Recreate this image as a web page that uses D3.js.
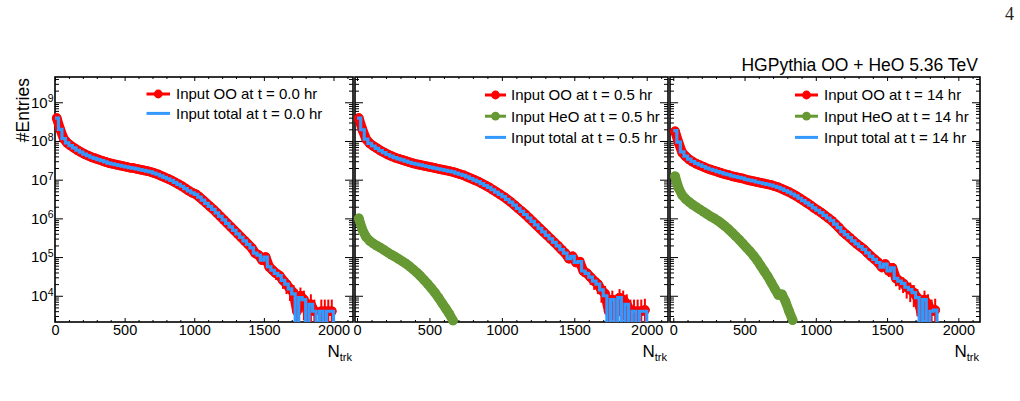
<!DOCTYPE html>
<html>
<head>
<meta charset="utf-8">
<script src="https://cdn.jsdelivr.net/npm/d3@7"></script>
<style>
  body { margin: 0; background: #fff; }
  text { font-family: "Liberation Sans", Arial, Helvetica, sans-serif; }
</style>
</head>
<body>
<svg id="chart" width="1020" height="401"></svg>
<script>
//! DATA  (log10 of #Entries per N_trk bin, bins of 25 starting at 0; null = empty bin)
const BIN_WIDTH = 25;
const EVENT_WEIGHT = 4000; // weight of a single event, used for the error bars

const ooT0 = [8.59, 8.30, 8.06, 7.95, 7.88, 7.82, 7.76, 7.71, 7.66, 7.62,
  7.58, 7.55, 7.52, 7.49, 7.46, 7.43, 7.41, 7.39, 7.37, 7.35,
  7.33, 7.31, 7.30, 7.28, 7.26, 7.24, 7.22, 7.20, 7.17, 7.14,
  7.10, 7.06, 7.02, 6.98, 6.93, 6.88, 6.83, 6.77, 6.71, 6.66,
  6.62, 6.55, 6.47, 6.39, 6.31, 6.23, 6.14, 6.05, 5.96, 5.87,
  5.78, 5.69, 5.60, 5.51, 5.42, 5.33, 5.24, 5.10, 5.05, 4.92,
  5.00, 4.75, 4.66, 4.58, 4.52, 4.40, 4.30, 4.18, 4.08, 3.60,
  4.00, 3.90, 3.60, 3.78, 3.60, null, 3.60, 3.60, 3.60, 3.60];
const totalT0 = [8.59, 8.30, 8.06, 7.95, 7.88, 7.82, 7.76, 7.71, 7.66, 7.62,
  7.58, 7.55, 7.52, 7.49, 7.46, 7.43, 7.41, 7.39, 7.37, 7.35,
  7.33, 7.31, 7.30, 7.28, 7.26, 7.24, 7.22, 7.20, 7.17, 7.14,
  7.10, 7.06, 7.02, 6.98, 6.93, 6.88, 6.83, 6.77, 6.71, 6.66,
  6.62, 6.55, 6.47, 6.39, 6.31, 6.23, 6.14, 6.05, 5.96, 5.87,
  5.78, 5.69, 5.60, 5.51, 5.42, 5.33, 5.24, 5.10, 5.05, 4.92,
  5.00, 4.75, 4.66, 4.58, 4.52, 4.40, 4.30, 4.18, 4.05, null,
  3.95, 3.90, null, 3.78, 3.60, null, 3.60, null, 3.60, 3.60];

const ooT05 = [8.59, 8.29, 8.05, 7.94, 7.87, 7.81, 7.75, 7.70, 7.65, 7.61,
  7.57, 7.54, 7.51, 7.48, 7.45, 7.42, 7.40, 7.38, 7.36, 7.34,
  7.32, 7.30, 7.28, 7.26, 7.24, 7.22, 7.20, 7.17, 7.14, 7.11,
  7.07, 7.03, 6.99, 6.95, 6.90, 6.85, 6.80, 6.74, 6.68, 6.62,
  6.56, 6.49, 6.42, 6.34, 6.26, 6.18, 6.10, 6.01, 5.92, 5.83,
  5.74, 5.65, 5.56, 5.47, 5.38, 5.29, 5.19, 5.10, 4.96, 5.02,
  4.86, 4.88, 4.64, 4.58, 4.48, 4.38, 4.30, 4.15, 4.05, 3.60,
  3.90, 3.60, 3.95, 3.90, 3.78, 3.60, 3.60, 3.60, 3.60, 3.63];
const heoT05 = [6.00, 5.70, 5.52, 5.42, 5.35, 5.29, 5.24, 5.18, 5.12, 5.06,
  5.01, 4.95, 4.89, 4.83, 4.76, 4.68, 4.60, 4.51, 4.41, 4.31,
  4.20, 4.08, 3.95, 3.81, 3.67, 3.53, 3.36];
const totalT05 = [8.59, 8.29, 8.05, 7.94, 7.87, 7.81, 7.75, 7.70, 7.65, 7.61,
  7.57, 7.54, 7.51, 7.48, 7.45, 7.42, 7.40, 7.38, 7.36, 7.34,
  7.32, 7.30, 7.28, 7.26, 7.24, 7.22, 7.20, 7.17, 7.14, 7.11,
  7.07, 7.03, 6.99, 6.95, 6.90, 6.85, 6.80, 6.74, 6.68, 6.62,
  6.56, 6.49, 6.42, 6.34, 6.26, 6.18, 6.10, 6.01, 5.92, 5.83,
  5.74, 5.65, 5.56, 5.47, 5.38, 5.29, 5.19, 5.10, 4.96, 5.02,
  4.86, 4.88, 4.64, 4.58, 4.48, 4.38, 4.30, 4.15, 4.00, null,
  3.90, null, 3.95, null, 3.78, null, 3.60, null, 3.60, 3.60];

const ooT14 = [8.25, 7.95, 7.70, 7.60, 7.52, 7.46, 7.41, 7.37, 7.33, 7.29,
  7.26, 7.23, 7.20, 7.17, 7.14, 7.12, 7.09, 7.07, 7.05, 7.03,
  7.00, 6.98, 6.96, 6.94, 6.92, 6.90, 6.88, 6.86, 6.83, 6.80,
  6.76, 6.72, 6.68, 6.63, 6.58, 6.52, 6.46, 6.40, 6.34, 6.27,
  6.21, 6.15, 6.08, 6.01, 5.94, 5.85, 5.76, 5.66, 5.58, 5.50,
  5.42, 5.34, 5.27, 5.20, 5.11, 5.02, 4.94, 4.86, 4.74, 4.82,
  4.64, 4.72, 4.45, 4.38, 4.32, 4.22, 4.16, 4.08, 3.95, 3.60,
  3.90, 3.78, 3.60, 3.63];
const heoT14 = [7.09, 6.78, 6.60, 6.50, 6.42, 6.35, 6.29, 6.23, 6.17, 6.11,
  6.05, 6.00, 5.94, 5.87, 5.80, 5.72, 5.63, 5.54, 5.45, 5.35,
  5.25, 5.15, 5.04, 4.92, 4.78, 4.64, 4.50, 4.34, 4.18, 4.02,
  4.04, 3.85, 3.60, 3.37];
const totalT14 = [8.27, 7.97, 7.72, 7.61, 7.53, 7.47, 7.42, 7.38, 7.34, 7.30,
  7.27, 7.24, 7.21, 7.18, 7.15, 7.13, 7.10, 7.08, 7.06, 7.04,
  7.01, 6.99, 6.97, 6.94, 6.92, 6.90, 6.88, 6.86, 6.83, 6.80,
  6.76, 6.72, 6.68, 6.63, 6.58, 6.52, 6.46, 6.40, 6.34, 6.27,
  6.21, 6.15, 6.08, 6.01, 5.94, 5.85, 5.76, 5.66, 5.58, 5.50,
  5.42, 5.34, 5.27, 5.20, 5.11, 5.02, 4.94, 4.86, 4.74, 4.82,
  4.64, 4.72, 4.45, 4.38, 4.32, 4.22, 4.16, 4.08, 3.95, null,
  3.90, null, 3.60, 3.63];

//! LABELS
const legendT0 = ['Input OO at t = 0.0 hr', 'Input total at t = 0.0 hr'];
const legendT05 = ['Input OO at t = 0.5 hr', 'Input HeO at t = 0.5 hr', 'Input total at t = 0.5 hr'];
const legendT14 = ['Input OO at t = 14 hr', 'Input HeO at t = 14 hr', 'Input total at t = 14 hr'];
const xMajorTicks = [0, 500, 1000, 1500, 2000];
const yMajorExponents = [4, 5, 6, 7, 8, 9];
const TITLE = 'HGPythia OO + HeO 5.36 TeV';
const Y_TITLE = '#Entries';

//! STYLE / LAYOUT
const RED = '#ff0000', GREEN = '#669933', BLUE = '#3399ff';
const Y_TOP = 77, Y_BOT = 322;
const MARKER_R = 4.8;

const svg = d3.select('#chart');
const y = d3.scaleLog().domain([2100, 4.5e9]).range([Y_BOT, Y_TOP]);

const panels = [
  { x0: 55, x1: 353, dom: [0, 2140], oo: ooT0, heo: null, total: totalT0,
    legend: legendT0, legX: [146.5, 170], textX: 176, rows: [99.3, 118.7], yLabels: true },
  { x0: 355, x1: 668, dom: [-14, 2147], oo: ooT05, heo: heoT05, total: totalT05,
    legend: legendT05, legX: [485, 506], textX: 511, rows: [100.3, 121.5, 142.7] },
  { x0: 670, x1: 980, dom: [-23, 2152], oo: ooT14, heo: heoT14, total: totalT14,
    legend: legendT14, legX: [795, 818], textX: 824, rows: [100.3, 121.5, 142.7] }
];

const toBins = arr => arr.map((v, k) => ({
  n: (k + 0.5) * BIN_WIDTH,
  v: v == null ? null : Math.pow(10, v)
}));
const visible = d => d.v != null && d.v >= y.domain()[0];

// markers of a series: a dense row of circles, drawn as circles plus a
// round-capped band of the same width so neighbouring bins merge
function drawMarkers(g, x, arr, color) {
  const bins = toBins(arr);
  g.append('path')
    .attr('d', d3.line().defined(visible).x(d => x(d.n)).y(d => y(d.v))(bins))
    .attr('fill', 'none').attr('stroke', color)
    .attr('stroke-width', MARKER_R * 2)
    .attr('stroke-linecap', 'round').attr('stroke-linejoin', 'round');
  g.append('g').selectAll('circle').data(bins.filter(visible)).enter().append('circle')
    .attr('cx', d => x(d.n)).attr('cy', d => y(d.v)).attr('r', MARKER_R)
    .attr('fill', color);
}

panels.forEach((p, i) => {
  const x = d3.scaleLinear().domain(p.dom).range([p.x0, p.x1]);
  const g = svg.append('g');

  g.append('clipPath').attr('id', 'clip' + i)
    .append('rect')
    .attr('x', p.x0).attr('y', Y_TOP)
    .attr('width', p.x1 - p.x0).attr('height', Y_BOT - Y_TOP);

  // ticks
  const xMinor = d3.range(0, p.dom[1], 100).filter(d => d % 500 !== 0);
  const yMinor = [];
  for (let e = 3; e <= 9; e++) for (let m = 2; m <= 9; m++) {
    const v = m * Math.pow(10, e);
    if (v >= y.domain()[0] && v <= y.domain()[1]) yMinor.push(v);
  }
  const yMajor = yMajorExponents.map(e => Math.pow(10, e));

  const axis = (gen, tx, ty, vals, size, fmt, pad) => {
    const a = g.append('g')
      .attr('transform', `translate(${tx},${ty})`)
      .call(gen.tickValues(vals).tickSize(size).tickPadding(pad || 3).tickFormat(fmt || (() => '')));
    a.select('.domain').remove();
    a.selectAll('line').attr('stroke', '#000').attr('stroke-width', 1);
    a.attr('font-family', null).attr('font-size', null);
    return a;
  };

  const bottom = axis(d3.axisBottom(x), 0, Y_BOT, xMajorTicks.filter(d => d <= p.dom[1]), -4, d3.format('d'), 2.5);
  bottom.selectAll('text').attr('font-size', '14.5px').attr('fill', '#000');
  axis(d3.axisBottom(x), 0, Y_BOT, xMinor, -2);
  axis(d3.axisTop(x), 0, Y_TOP, xMajorTicks, -4);
  axis(d3.axisTop(x), 0, Y_TOP, xMinor, -2);

  const left = axis(d3.axisLeft(y), p.x0, 0, yMajor, -8, p.yLabels ? (() => '10') : null, 1.5);
  axis(d3.axisLeft(y), p.x0, 0, yMinor, -4);
  axis(d3.axisRight(y), p.x1, 0, yMajor, -8);
  axis(d3.axisRight(y), p.x1, 0, yMinor, -4);
  if (p.yLabels) {
    left.selectAll('text')
      .attr('font-size', '15px').attr('fill', '#000')
      .each(function (d) {
        d3.select(this).append('tspan')
          .attr('dy', '-0.5em').attr('font-size', '10.5px')
          .text(Math.round(Math.log10(d)));
      });
  }

  g.append('rect')
    .attr('x', p.x0).attr('y', Y_TOP)
    .attr('width', p.x1 - p.x0).attr('height', Y_BOT - Y_TOP)
    .attr('fill', 'none').attr('stroke', '#000').attr('stroke-width', 1.6);

  // OO: error bars + markers
  g.append('g').attr('clip-path', `url(#clip${i})`)
    .selectAll('line').data(toBins(p.oo).filter(visible)).enter().append('line')
    .attr('x1', d => x(d.n)).attr('x2', d => x(d.n))
    .attr('y1', d => y(d.v + Math.sqrt(d.v * EVENT_WEIGHT)))
    .attr('y2', d => {
      const lo = d.v - Math.sqrt(d.v * EVENT_WEIGHT);
      return lo < y.domain()[0] ? Y_BOT + 10 : y(lo);
    })
    .attr('stroke', RED).attr('stroke-width', 2);
  drawMarkers(g, x, p.oo, RED);

  // HeO markers
  if (p.heo) drawMarkers(g, x, p.heo, GREEN);

  // total as a step histogram
  const steps = [];
  p.total.forEach((v, k) => {
    const yy = v == null ? Y_BOT + 20 : y(Math.pow(10, v));
    steps.push([x(k * BIN_WIDTH), yy], [x((k + 1) * BIN_WIDTH), yy]);
  });
  steps.push([x(p.total.length * BIN_WIDTH), Y_BOT + 20]);
  g.append('path')
    .attr('clip-path', `url(#clip${i})`)
    .attr('d', d3.line()(steps))
    .attr('fill', 'none').attr('stroke', BLUE).attr('stroke-width', 3.2);

  // legend
  const colors = p.heo ? [RED, GREEN, BLUE] : [RED, BLUE];
  p.legend.forEach((label, r) => {
    const base = p.rows[r];
    const ly = base - 5.3;
    g.append('line')
      .attr('x1', p.legX[0]).attr('x2', p.legX[1]).attr('y1', ly).attr('y2', ly)
      .attr('stroke', colors[r]).attr('stroke-width', 3);
    if (colors[r] !== BLUE) {
      g.append('circle').attr('cx', (p.legX[0] + p.legX[1]) / 2).attr('cy', ly)
        .attr('r', MARKER_R - 0.4).attr('fill', colors[r]);
    }
    g.append('text').attr('x', p.textX).attr('y', base)
      .attr('font-size', '15px').text(label);
  });

  // x title
  const xt = g.append('text').attr('x', p.x1 - 1).attr('y', 357)
    .attr('text-anchor', 'end').attr('font-size', '17px');
  xt.append('tspan').text('N');
  xt.append('tspan').attr('font-size', '11px').attr('dy', '4').text('trk');
});

// y title
svg.append('text')
  .attr('transform', 'translate(28.5,78) rotate(-90)')
  .attr('text-anchor', 'end').attr('font-size', '17.5px')
  .text(Y_TITLE);

// title
svg.append('text').attr('x', 978).attr('y', 70.5)
  .attr('text-anchor', 'end').attr('font-size', '17.5px')
  .text(TITLE);

// page number
svg.append('text').attr('x', 1009.5).attr('y', 20)
  .attr('text-anchor', 'middle').attr('font-size', '18px')
  .style('font-family', '"Liberation Serif", "DejaVu Serif", serif')
  .attr('fill', '#222').text('4');
</script>
</body>
</html>
